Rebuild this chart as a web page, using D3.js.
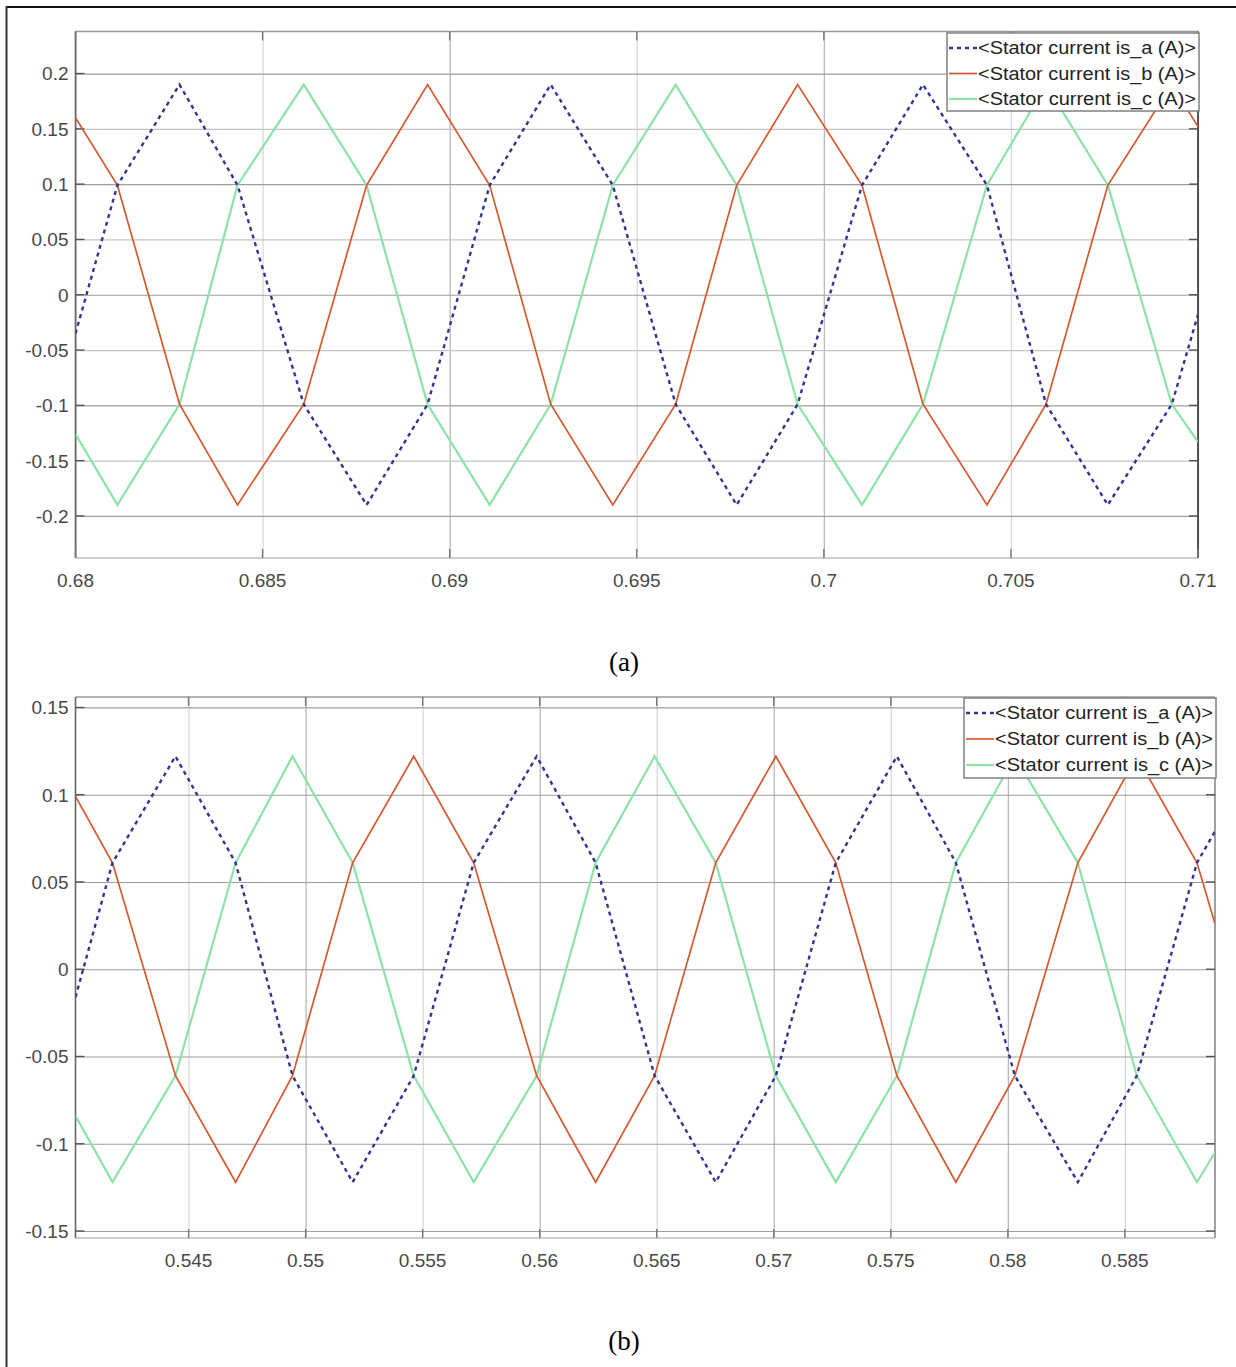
<!DOCTYPE html>
<html>
<head>
<meta charset="utf-8">
<script src="https://cdn.jsdelivr.net/npm/d3@7"></script>
<style>
  html, body { margin: 0; padding: 0; background: #fff; }
  svg { display: block; }
  .tick-label { font-family: "Liberation Sans", Arial, sans-serif; font-size: 19px; fill: #484848; }
  .legend-text { font-family: "Liberation Sans", Arial, sans-serif; font-size: 17.5px; fill: #222; }
  .caption { font-family: "Liberation Serif", "Times New Roman", serif; font-size: 27px; fill: #000; }
</style>
</head>
<body>
<svg id="chart" width="1236" height="1367"></svg>
<script>
// ---------------- DATA ----------------
const seriesNames = ["<Stator current is_a (A)>", "<Stator current is_b (A)>", "<Stator current is_c (A)>"];

// Panel (a)
const timeA = [0.68, 0.68112, 0.68278, 0.68433, 0.68610, 0.68778, 0.68941, 0.69107, 0.69270, 0.69436,
               0.69604, 0.69767, 0.69930, 0.70102, 0.70265, 0.70436, 0.70594, 0.70759, 0.70930, 0.71];
const isaA = [-0.035, 0.099, 0.19, 0.099, -0.099, -0.19, -0.099, 0.099, 0.19, 0.099,
              -0.099, -0.19, -0.099, 0.099, 0.19, 0.099, -0.099, -0.19, -0.099, -0.018];
const isbA = [0.16, 0.099, -0.099, -0.19, -0.099, 0.099, 0.19, 0.099, -0.099, -0.19,
              -0.099, 0.099, 0.19, 0.099, -0.099, -0.19, -0.099, 0.099, 0.19, 0.152];
const iscA = [-0.126, -0.19, -0.099, 0.099, 0.19, 0.099, -0.099, -0.19, -0.099, 0.099,
              0.19, 0.099, -0.099, -0.19, -0.099, 0.099, 0.19, 0.099, -0.099, -0.133];
const xTicksA = [0.68, 0.685, 0.69, 0.695, 0.7, 0.705, 0.71];
const xTickLabelsA = ["0.68", "0.685", "0.69", "0.695", "0.7", "0.705", "0.71"];
const yTicksA = [-0.2, -0.15, -0.1, -0.05, 0, 0.05, 0.1, 0.15, 0.2];
const yTickLabelsA = ["-0.2", "-0.15", "-0.1", "-0.05", "0", "0.05", "0.1", "0.15", "0.2"];
const xDomainA = [0.68, 0.71];
const yDomainA = [-0.238, 0.238];

// Panel (b)
const timeB = [0.54017, 0.54175, 0.54444, 0.54701, 0.54944, 0.55201, 0.55462, 0.55718, 0.55987, 0.56239,
               0.56491, 0.56752, 0.57009, 0.57265, 0.57526, 0.57778, 0.58030, 0.58299, 0.58551, 0.58808, 0.58885];
const isaB = [-0.016, 0.061, 0.122, 0.061, -0.061, -0.122, -0.061, 0.061, 0.122, 0.061,
              -0.061, -0.122, -0.061, 0.061, 0.122, 0.061, -0.061, -0.122, -0.061, 0.061, 0.079];
const isbB = [0.099, 0.061, -0.061, -0.122, -0.061, 0.061, 0.122, 0.061, -0.061, -0.122,
              -0.061, 0.061, 0.122, 0.061, -0.061, -0.122, -0.061, 0.061, 0.122, 0.061, 0.026];
const iscB = [-0.084, -0.122, -0.061, 0.061, 0.122, 0.061, -0.061, -0.122, -0.061, 0.061,
              0.122, 0.061, -0.061, -0.122, -0.061, 0.061, 0.122, 0.061, -0.061, -0.122, -0.105];
const xTicksB = [0.545, 0.55, 0.555, 0.56, 0.565, 0.57, 0.575, 0.58, 0.585];
const xTickLabelsB = ["0.545", "0.55", "0.555", "0.56", "0.565", "0.57", "0.575", "0.58", "0.585"];
const yTicksB = [-0.15, -0.1, -0.05, 0, 0.05, 0.1, 0.15];
const yTickLabelsB = ["-0.15", "-0.1", "-0.05", "0", "0.05", "0.1", "0.15"];
const xDomainB = [0.54017, 0.58885];
const yDomainB = [-0.154, 0.156];

// ---------------- STYLES ----------------
const seriesStyles = [
  { color: "#34348e", width: 2.4, dash: "4,4" },
  { color: "#d5582e", width: 1.7, dash: null },
  { color: "#8ce2a8", width: 2.2, dash: null }
];

const svg = d3.select("#chart");

// outer frame (only top and left visible)
svg.append("line").attr("x1", 6.5).attr("x2", 1236).attr("y1", 7).attr("y2", 7)
  .attr("stroke", "#111").attr("stroke-width", 2);
svg.append("line").attr("x1", 6.5).attr("x2", 6.5).attr("y1", 6).attr("y2", 1367)
  .attr("stroke", "#333").attr("stroke-width", 2);

function drawPanel(cfg) {
  const g = svg.append("g");
  const x = d3.scaleLinear().domain(cfg.xDomain).range([cfg.left, cfg.right]);
  const y = d3.scaleLinear().domain(cfg.yDomain).range([cfg.bottom, cfg.top]);

  g.append("rect").attr("x", cfg.left).attr("y", cfg.top)
    .attr("width", cfg.right - cfg.left).attr("height", cfg.bottom - cfg.top).attr("fill", "#fff");

  // vertical grid
  const vgrid = g.append("g").attr("transform", `translate(0,${cfg.bottom})`)
    .call(d3.axisBottom(x).tickValues(cfg.xTicks).tickSize(-(cfg.bottom - cfg.top)).tickFormat(""));
  vgrid.select(".domain").remove();
  vgrid.selectAll(".tick line")
    .attr("stroke", d => cfg.isMajorX(d) ? "#b4b4b4" : "#d6d6d6")
    .attr("stroke-width", 1.2);

  // horizontal grid
  const hgrid = g.append("g").attr("transform", `translate(${cfg.left},0)`)
    .call(d3.axisLeft(y).tickValues(cfg.yTicks).tickSize(-(cfg.right - cfg.left)).tickFormat(""));
  hgrid.select(".domain").remove();
  hgrid.selectAll(".tick line")
    .attr("stroke", d => cfg.isMajorY(d) ? "#9e9e9e" : "#c4c4c4")
    .attr("stroke-width", 1.2);

  // box
  g.append("line").attr("x1", cfg.left).attr("x2", cfg.right).attr("y1", cfg.top).attr("y2", cfg.top)
    .attr("stroke", "#9a9a9a").attr("stroke-width", 1.5);
  g.append("line").attr("x1", cfg.left).attr("x2", cfg.right).attr("y1", cfg.bottom).attr("y2", cfg.bottom)
    .attr("stroke", "#cfcfcf").attr("stroke-width", 2);
  g.append("line").attr("x1", cfg.left).attr("x2", cfg.left).attr("y1", cfg.top).attr("y2", cfg.bottom)
    .attr("stroke", "#666").attr("stroke-width", 1.6);
  g.append("line").attr("x1", cfg.right).attr("x2", cfg.right).attr("y1", cfg.top).attr("y2", cfg.bottom)
    .attr("stroke", cfg.rightColor).attr("stroke-width", 1.6);

  // inward ticks
  const tl = 9;
  cfg.yTicks.forEach(v => {
    g.append("line").attr("x1", cfg.left).attr("x2", cfg.left + tl).attr("y1", y(v)).attr("y2", y(v))
      .attr("stroke", "#555").attr("stroke-width", 1.4);
    g.append("line").attr("x1", cfg.right - tl).attr("x2", cfg.right).attr("y1", y(v)).attr("y2", y(v))
      .attr("stroke", "#555").attr("stroke-width", 1.4);
  });
  cfg.xTicks.forEach(v => {
    g.append("line").attr("x1", x(v)).attr("x2", x(v)).attr("y1", cfg.bottom).attr("y2", cfg.bottom - tl)
      .attr("stroke", "#777").attr("stroke-width", 1.4);
    g.append("line").attr("x1", x(v)).attr("x2", x(v)).attr("y1", cfg.top).attr("y2", cfg.top + tl)
      .attr("stroke", "#777").attr("stroke-width", 1.4);
  });

  // tick labels
  cfg.yTicks.forEach((v, i) => {
    g.append("text").attr("class", "tick-label").attr("x", cfg.left - 7).attr("y", y(v))
      .attr("dy", "0.36em").attr("text-anchor", "end").text(cfg.yTickLabels[i]);
  });
  cfg.xTicks.forEach((v, i) => {
    g.append("text").attr("class", "tick-label").attr("x", x(v)).attr("y", cfg.bottom + 22)
      .attr("dy", "0.36em").attr("text-anchor", "middle").text(cfg.xTickLabels[i]);
  });

  // series
  const clipId = "clip-" + cfg.id;
  g.append("clipPath").attr("id", clipId).append("rect")
    .attr("x", cfg.left).attr("y", cfg.top).attr("width", cfg.right - cfg.left).attr("height", cfg.bottom - cfg.top);
  const line = d3.line().x(d => x(d[0])).y(d => y(d[1]));
  const order = [2, 1, 0];
  order.forEach(si => {
    const vals = cfg.series[si];
    const pts = cfg.time.map((t, i) => [t, vals[i]]);
    const st = seriesStyles[si];
    g.append("path").datum(pts).attr("d", line).attr("fill", "none")
      .attr("clip-path", `url(#${clipId})`)
      .attr("stroke", st.color).attr("stroke-width", st.width)
      .attr("stroke-dasharray", st.dash).attr("stroke-linejoin", "miter");
  });

  // legend
  const L = cfg.legend;
  g.append("rect").attr("x", L.x).attr("y", L.y).attr("width", L.w).attr("height", L.h)
    .attr("fill", "#fff").attr("stroke", "#808080").attr("stroke-width", 1.5);
  seriesNames.forEach((name, i) => {
    const ry = L.y + 15 + i * L.row;
    const st = seriesStyles[i];
    g.append("line").attr("x1", L.x + 2).attr("x2", L.x + 30).attr("y1", ry).attr("y2", ry)
      .attr("stroke", st.color).attr("stroke-width", st.width).attr("stroke-dasharray", st.dash);
    g.append("text").attr("class", "legend-text").attr("x", L.x + 31).attr("y", ry)
      .attr("dy", "0.36em").attr("textLength", 218).attr("lengthAdjust", "spacingAndGlyphs").text(name);
  });

  // caption
  g.append("text").attr("class", "caption").attr("x", cfg.captionX).attr("y", cfg.captionY)
    .attr("text-anchor", "middle").text(cfg.caption);
}

const near = (v, m) => Math.abs(Math.round(v / m) * m - v) < 1e-9;

drawPanel({
  id: "a", left: 75.5, right: 1198, top: 31.5, bottom: 558,
  xDomain: xDomainA, yDomain: yDomainA,
  xTicks: xTicksA, xTickLabels: xTickLabelsA, yTicks: yTicksA, yTickLabels: yTickLabelsA,
  isMajorX: v => near(v, 0.01), isMajorY: v => near(v, 0.1),
  rightColor: "#333",
  time: timeA, series: [isaA, isbA, iscA],
  legend: { x: 947, y: 33, w: 252, h: 78, row: 25.5 },
  caption: "(a)", captionX: 624, captionY: 671
});

drawPanel({
  id: "b", left: 75.5, right: 1215, top: 697, bottom: 1238,
  xDomain: xDomainB, yDomain: yDomainB,
  xTicks: xTicksB, xTickLabels: xTickLabelsB, yTicks: yTicksB, yTickLabels: yTickLabelsB,
  isMajorX: v => near(v, 0.01), isMajorY: v => true,
  rightColor: "#888",
  time: timeB, series: [isaB, isbB, iscB],
  legend: { x: 964, y: 698, w: 252, h: 80, row: 26 },
  caption: "(b)", captionX: 624, captionY: 1350
});
</script>
</body>
</html>
